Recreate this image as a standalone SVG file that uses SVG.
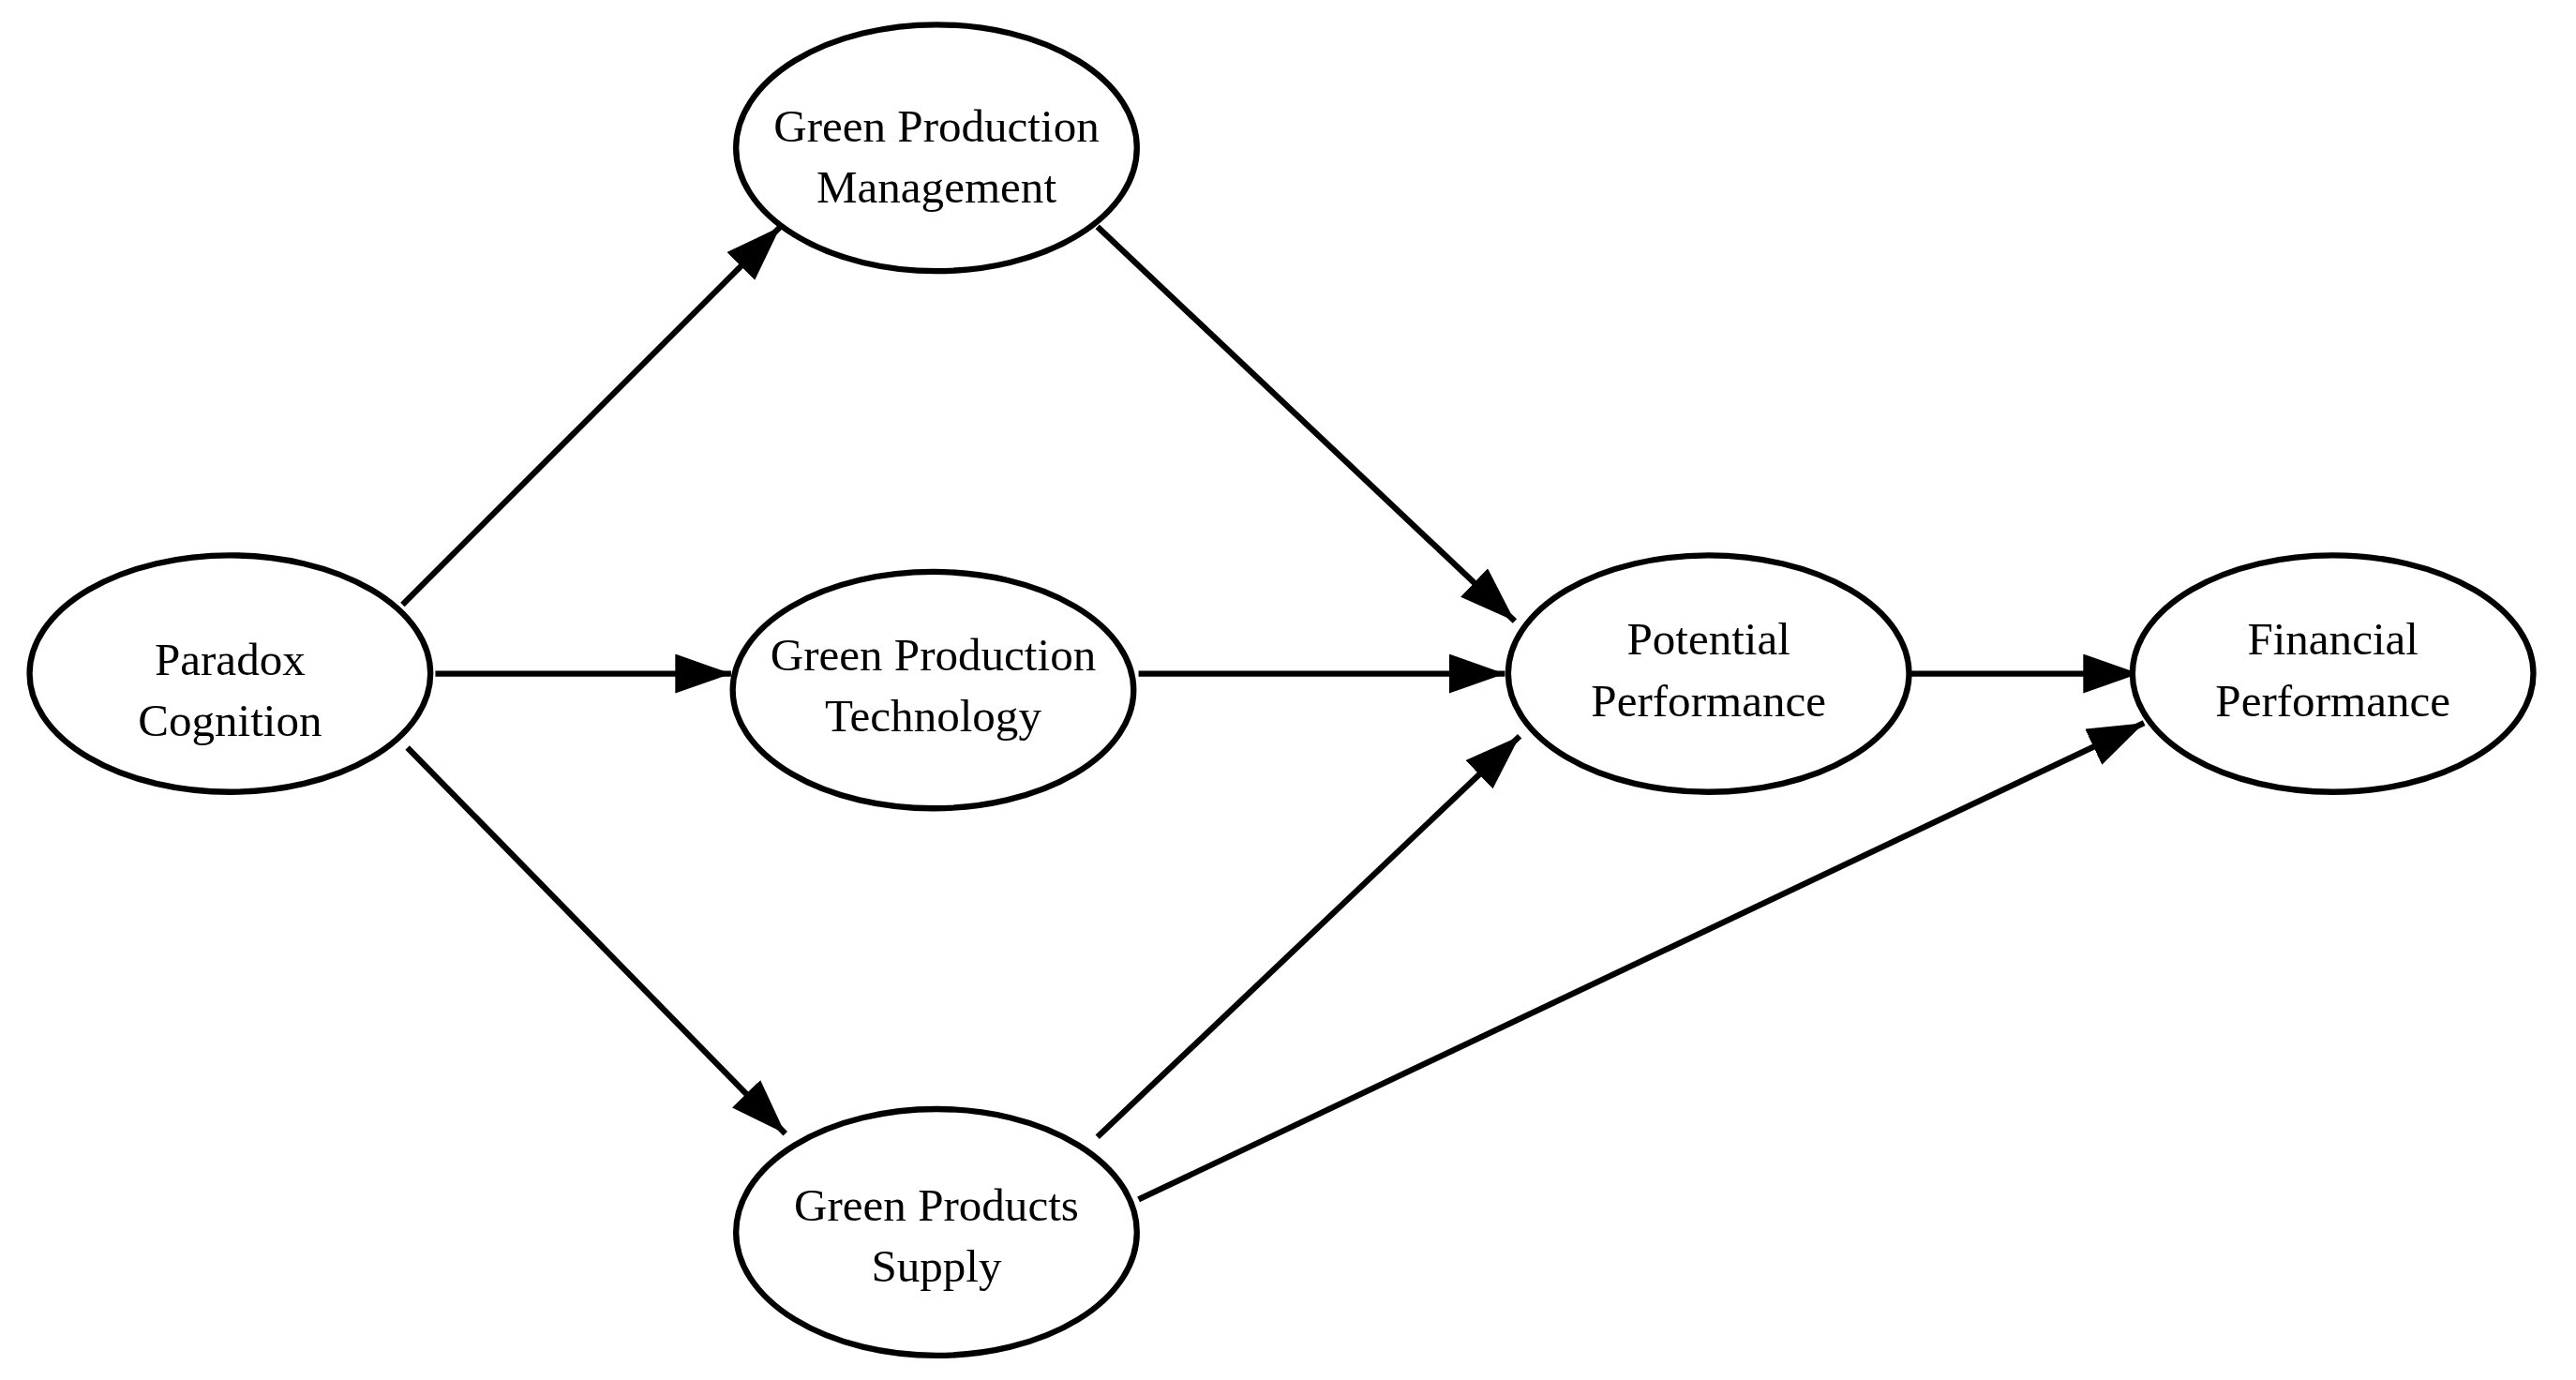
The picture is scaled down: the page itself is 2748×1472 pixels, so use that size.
<svg xmlns="http://www.w3.org/2000/svg" width="2748" height="1472" viewBox="0 0 2748 1472">
<style>
.n{fill:#fff;stroke:#000;stroke-width:3.6}
.t{font-family:"Liberation Serif","DejaVu Serif",serif;font-size:28px;text-anchor:middle;fill:#000}
.e{stroke:#000;stroke-width:3.6;fill:none;marker-end:url(#a)}
</style>
<defs><marker id="a" markerUnits="userSpaceOnUse" markerWidth="34" markerHeight="24" refX="34" refY="12" orient="auto"><path d="M0,0L34,12L0,24z" fill="#000"/></marker></defs>
<rect width="2748" height="1472" fill="#fff"/>
<g transform="scale(1.7526)">
<g id="connectors">
<line class="e" x1="245" y1="368" x2="475" y2="138"/>
<line class="e" x1="265" y1="410" x2="445" y2="410"/>
<line class="e" x1="248" y1="455" x2="478" y2="690"/>
<line class="e" x1="668" y1="138" x2="922" y2="378"/>
<line class="e" x1="693" y1="410" x2="916" y2="410"/>
<line class="e" x1="668" y1="692" x2="925" y2="448"/>
<line class="e" x1="1160" y1="410" x2="1302" y2="410"/>
<line class="e" x1="693" y1="730" x2="1305" y2="440"/>
</g>
<g id="pc"><ellipse class="n" cx="140" cy="410" rx="122" ry="72"/><text class="t" x="140" y="411">Paradox</text><text class="t" x="140" y="448">Cognition</text></g>
<g id="gpm"><ellipse class="n" cx="570" cy="90" rx="122" ry="75"/><text class="t" x="570" y="86">Green Production</text><text class="t" x="570" y="123">Management</text></g>
<g id="gpt"><ellipse class="n" cx="568" cy="420" rx="122" ry="72"/><text class="t" x="568" y="408">Green Production</text><text class="t" x="568" y="445">Technology</text></g>
<g id="gps"><ellipse class="n" cx="570" cy="750" rx="122" ry="75"/><text class="t" x="570" y="743">Green Products</text><text class="t" x="570" y="780">Supply</text></g>
<g id="pp"><ellipse class="n" cx="1040" cy="410" rx="122" ry="72"/><text class="t" x="1040" y="398">Potential</text><text class="t" x="1040" y="436">Performance</text></g>
<g id="fp"><ellipse class="n" cx="1420" cy="410" rx="122" ry="72"/><text class="t" x="1420" y="398">Financial</text><text class="t" x="1420" y="436">Performance</text></g>
</g>
</svg>
